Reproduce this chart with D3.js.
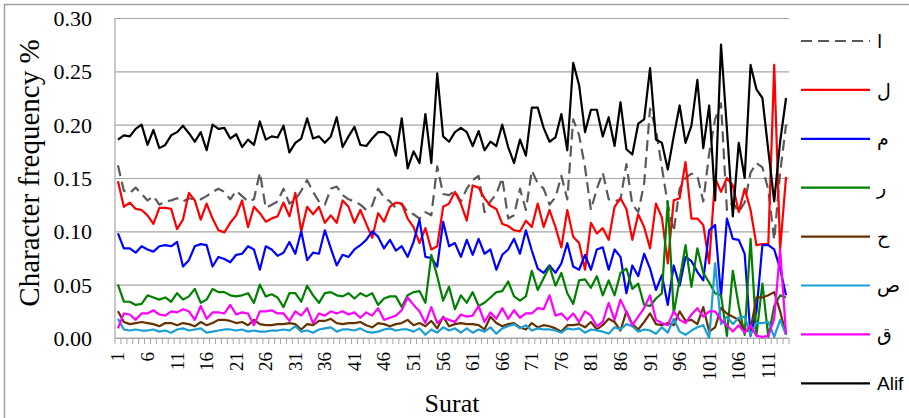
<!DOCTYPE html>
<html lang="en">
<head>
<meta charset="UTF-8" />
<title>Character frequency by Surat</title>
<style>
  html, body {
    margin: 0;
    padding: 0;
    background: #fff;
  }
  svg { display: block; }
  .grid line { stroke: #a6a6a6; stroke-width: 1.2; }
  .grid .domain { display: none; }
  .ytick text, .xtick text { font-family: "Liberation Serif", "Times New Roman", serif; fill: #000; }
  .series { fill: none; stroke-width: 2.2; stroke-linejoin: round; }
  .legend text { font-family: "Liberation Sans", "DejaVu Sans", sans-serif; font-size: 19px; fill: #000; }
  .title { font-family: "Liberation Serif", "Times New Roman", serif; fill: #000; }
</style>
</head>
<body>
<svg id="chart" width="909" height="418"></svg>

<script src="https://d3js.org/d3.v7.min.js"></script>
<script>
// surat numbers 1..114
const surat = d3.range(1, 115);

const yTicks = [0, 0.05, 0.10, 0.15, 0.20, 0.25, 0.30];

// ا (dashed)
const alefLetter = [
  0.162, 0.138, 0.136, 0.141, 0.135, 0.129, 0.133, 0.125, 0.128, 0.129,
  0.131, 0.128, 0.131, 0.130, 0.130, 0.133, 0.137, 0.140, 0.137, 0.130,
  0.138, 0.133, 0.128, 0.130, 0.155, 0.122, 0.125, 0.128, 0.140, 0.126,
  0.130, 0.138, 0.148, 0.137, 0.128, 0.125, 0.140, 0.142, 0.134, 0.130,
  0.128, 0.125, 0.120, 0.124, 0.140, 0.132, 0.128, 0.122, 0.126, 0.118,
  0.116, 0.112, 0.118, 0.115, 0.161, 0.135, 0.134, 0.138, 0.128, 0.140,
  0.148, 0.152, 0.118, 0.128, 0.135, 0.150, 0.112, 0.115, 0.140, 0.120,
  0.157, 0.145, 0.140, 0.125, 0.132, 0.152, 0.130, 0.205, 0.190, 0.160,
  0.120, 0.140, 0.155, 0.130, 0.128, 0.130, 0.163, 0.125, 0.118, 0.145,
  0.215, 0.195, 0.160, 0.125, 0.100, 0.140, 0.150, 0.154, 0.152, 0.128,
  0.173, 0.205, 0.220, 0.120, 0.127, 0.118, 0.127, 0.155, 0.164, 0.160,
  0.139, 0.092, 0.155, 0.200
];

// ل
const lam = [
  0.147, 0.123, 0.127, 0.121, 0.120, 0.115, 0.107, 0.122, 0.122, 0.121,
  0.102, 0.111, 0.136, 0.129, 0.111, 0.126, 0.112, 0.101, 0.099, 0.108,
  0.115, 0.129, 0.104, 0.123, 0.117, 0.109, 0.112, 0.114, 0.127, 0.114,
  0.136, 0.100, 0.123, 0.116, 0.123, 0.108, 0.115, 0.108, 0.129, 0.123,
  0.108, 0.120, 0.107, 0.094, 0.117, 0.109, 0.123, 0.127, 0.126, 0.112,
  0.104, 0.089, 0.103, 0.083, 0.086, 0.123, 0.126, 0.137, 0.126, 0.110,
  0.143, 0.141, 0.131, 0.124, 0.121, 0.107, 0.105, 0.101, 0.100, 0.110,
  0.104, 0.126, 0.104, 0.120, 0.104, 0.085, 0.120, 0.095, 0.089, 0.064,
  0.108, 0.098, 0.103, 0.092, 0.123, 0.131, 0.121, 0.092, 0.116, 0.104,
  0.084, 0.126, 0.113, 0.070, 0.129, 0.131, 0.165, 0.112, 0.112, 0.106,
  0.070, 0.150, 0.137, 0.150, 0.143, 0.118, 0.140, 0.120, 0.087, 0.088,
  0.088, 0.256, 0.083, 0.151
];

// م
const meem = [
  0.098, 0.084, 0.084, 0.080, 0.086, 0.083, 0.081, 0.086, 0.087, 0.086,
  0.090, 0.067, 0.073, 0.086, 0.088, 0.087, 0.067, 0.076, 0.074, 0.071,
  0.078, 0.079, 0.086, 0.083, 0.064, 0.086, 0.083, 0.077, 0.080, 0.090,
  0.079, 0.100, 0.073, 0.080, 0.079, 0.101, 0.084, 0.068, 0.078, 0.076,
  0.083, 0.087, 0.092, 0.100, 0.095, 0.084, 0.092, 0.082, 0.086, 0.076,
  0.090, 0.111, 0.076, 0.075, 0.067, 0.109, 0.086, 0.089, 0.076, 0.092,
  0.078, 0.093, 0.079, 0.083, 0.064, 0.078, 0.083, 0.093, 0.079, 0.101,
  0.082, 0.065, 0.061, 0.068, 0.061, 0.070, 0.089, 0.067, 0.064, 0.078,
  0.064, 0.083, 0.085, 0.064, 0.083, 0.076, 0.042, 0.068, 0.058, 0.079,
  0.065, 0.045, 0.059, 0.031, 0.068, 0.049, 0.076, 0.072, 0.062, 0.054,
  0.101, 0.106, 0.039, 0.112, 0.093, 0.092, 0.079, 0.002, 0.025, 0.087,
  0.087, 0.083, 0.065, 0.040
];

// ر
const ra = [
  0.050, 0.034, 0.034, 0.031, 0.032, 0.040, 0.038, 0.036, 0.038, 0.034,
  0.042, 0.036, 0.039, 0.046, 0.033, 0.036, 0.046, 0.043, 0.043, 0.040,
  0.039, 0.040, 0.042, 0.033, 0.050, 0.039, 0.041, 0.038, 0.029, 0.042,
  0.042, 0.034, 0.049, 0.040, 0.033, 0.042, 0.043, 0.040, 0.039, 0.042,
  0.037, 0.042, 0.039, 0.042, 0.031, 0.037, 0.039, 0.039, 0.029, 0.040,
  0.043, 0.044, 0.033, 0.078, 0.058, 0.035, 0.048, 0.027, 0.040, 0.033,
  0.043, 0.030, 0.033, 0.038, 0.043, 0.044, 0.053, 0.039, 0.035, 0.039,
  0.063, 0.045, 0.056, 0.067, 0.049, 0.061, 0.042, 0.032, 0.054, 0.055,
  0.047, 0.058, 0.040, 0.054, 0.040, 0.061, 0.065, 0.046, 0.051, 0.031,
  0.030, 0.037, 0.042, 0.128, 0.023, 0.055, 0.087, 0.048, 0.084, 0.061,
  0.052, 0.042, 0.040, 0.002, 0.063, 0.030, 0.003, 0.093, 0.003, 0.051,
  0.001, 0.030, 0.040, 0.038
];

// ح
const ha = [
  0.025, 0.015, 0.013, 0.014, 0.015, 0.014, 0.013, 0.011, 0.014, 0.014,
  0.012, 0.014, 0.013, 0.011, 0.015, 0.012, 0.014, 0.017, 0.017, 0.016,
  0.014, 0.015, 0.012, 0.017, 0.013, 0.012, 0.012, 0.013, 0.013, 0.014,
  0.013, 0.008, 0.013, 0.012, 0.016, 0.016, 0.018, 0.014, 0.013, 0.014,
  0.014, 0.015, 0.012, 0.010, 0.014, 0.013, 0.011, 0.013, 0.014, 0.017,
  0.012, 0.014, 0.011, 0.016, 0.009, 0.020, 0.011, 0.013, 0.014, 0.013,
  0.013, 0.012, 0.008, 0.020, 0.014, 0.011, 0.013, 0.014, 0.010, 0.008,
  0.014, 0.010, 0.012, 0.011, 0.009, 0.006, 0.012, 0.012, 0.013, 0.010,
  0.015, 0.008, 0.012, 0.018, 0.015, 0.007, 0.025, 0.013, 0.008, 0.015,
  0.023, 0.013, 0.012, 0.014, 0.012, 0.025, 0.016, 0.017, 0.013, 0.029,
  0.006, 0.010, 0.028, 0.023, 0.020, 0.017, 0.006, 0.008, 0.038, 0.038,
  0.040, 0.043, 0.025, 0.003
];

// ص
const sad = [
  0.018, 0.008, 0.007, 0.008, 0.007, 0.007, 0.008, 0.006, 0.007, 0.005,
  0.008, 0.009, 0.007, 0.008, 0.009, 0.005, 0.006, 0.007, 0.008, 0.008,
  0.007, 0.008, 0.006, 0.007, 0.006, 0.006, 0.007, 0.007, 0.008, 0.007,
  0.011, 0.006, 0.007, 0.005, 0.008, 0.009, 0.010, 0.006, 0.008, 0.008,
  0.007, 0.009, 0.006, 0.005, 0.006, 0.008, 0.009, 0.007, 0.008, 0.008,
  0.006, 0.009, 0.003, 0.008, 0.005, 0.010, 0.007, 0.009, 0.005, 0.009,
  0.005, 0.008, 0.006, 0.010, 0.004, 0.009, 0.011, 0.013, 0.009, 0.012,
  0.007, 0.009, 0.008, 0.008, 0.007, 0.005, 0.009, 0.008, 0.009, 0.005,
  0.008, 0.007, 0.006, 0.004, 0.010, 0.008, 0.013, 0.011, 0.006, 0.008,
  0.007, 0.004, 0.010, 0.005, 0.018, 0.006, 0.003, 0.007, 0.010, 0.012,
  0.000, 0.070, 0.013, 0.020, 0.013, 0.019, 0.020, 0.003, 0.014, 0.014,
  0.015, 0.001, 0.017, 0.003
];

// ق
const qaf = [
  0.009, 0.023, 0.022, 0.017, 0.023, 0.023, 0.026, 0.022, 0.021, 0.025,
  0.024, 0.027, 0.025, 0.017, 0.030, 0.018, 0.024, 0.024, 0.023, 0.031,
  0.022, 0.024, 0.023, 0.012, 0.025, 0.025, 0.026, 0.023, 0.023, 0.016,
  0.025, 0.021, 0.028, 0.014, 0.023, 0.021, 0.025, 0.023, 0.025, 0.022,
  0.024, 0.019, 0.024, 0.021, 0.028, 0.017, 0.019, 0.021, 0.026, 0.038,
  0.031, 0.025, 0.014, 0.029, 0.014, 0.019, 0.017, 0.015, 0.022, 0.020,
  0.021, 0.030, 0.015, 0.024, 0.018, 0.028, 0.018, 0.026, 0.019, 0.023,
  0.023, 0.028, 0.027, 0.040, 0.021, 0.023, 0.017, 0.023, 0.015, 0.025,
  0.021, 0.011, 0.015, 0.033, 0.017, 0.036, 0.024, 0.012, 0.020, 0.028,
  0.040, 0.017, 0.014, 0.012, 0.025, 0.017, 0.014, 0.022, 0.028, 0.020,
  0.025, 0.025, 0.017, 0.012, 0.006, 0.012, 0.005, 0.012, 0.002, 0.001,
  0.002, 0.018, 0.083, 0.004
];

// Alif
const alif = [
  0.186, 0.190, 0.189, 0.196, 0.200, 0.181, 0.195, 0.178, 0.181, 0.190,
  0.193, 0.199, 0.192, 0.184, 0.193, 0.176, 0.200, 0.196, 0.197, 0.187,
  0.191, 0.179, 0.186, 0.181, 0.203, 0.186, 0.189, 0.188, 0.199, 0.174,
  0.183, 0.187, 0.206, 0.187, 0.189, 0.183, 0.189, 0.207, 0.179, 0.189,
  0.198, 0.181, 0.180, 0.187, 0.193, 0.193, 0.189, 0.171, 0.206, 0.159,
  0.175, 0.164, 0.210, 0.164, 0.248, 0.189, 0.184, 0.193, 0.197, 0.193,
  0.180, 0.194, 0.176, 0.184, 0.180, 0.200, 0.179, 0.164, 0.186, 0.171,
  0.216, 0.216, 0.197, 0.184, 0.188, 0.210, 0.176, 0.258, 0.237, 0.193,
  0.214, 0.214, 0.189, 0.207, 0.180, 0.221, 0.177, 0.172, 0.201, 0.205,
  0.253, 0.186, 0.183, 0.158, 0.189, 0.218, 0.183, 0.199, 0.242, 0.178,
  0.218, 0.129, 0.275, 0.196, 0.114, 0.183, 0.150, 0.256, 0.233, 0.225,
  0.176, 0.128, 0.184, 0.225
];

const series = [
  { name: "ا", values: alefLetter, color: "#5a5a5a", dash: "11,6" },
  { name: "ل", values: lam, color: "#ff0000" },
  { name: "م", values: meem, color: "#0000ff" },
  { name: "ر", values: ra, color: "#008000" },
  { name: "ح", values: ha, color: "#663300" },
  { name: "ص", values: sad, color: "#1a9ed4" },
  { name: "ق", values: qaf, color: "#ff00ff" },
  { name: "Alif", values: alif, color: "#000000" }
];

const W = 909, H = 418;
const plot = { left: 115, right: 789, top: 18, bottom: 338 };

const svg = d3.select("#chart");

const x = d3.scaleBand().domain(surat).range([plot.left, plot.right]);
const y = d3.scaleLinear().domain([0, 0.30]).range([plot.bottom, plot.top]);
const cx = d => x(d) + x.bandwidth() / 2;

// chart frame
svg.append("rect")
  .attr("x", 4.5).attr("y", 4.5)
  .attr("width", W).attr("height", H)
  .attr("fill", "none")
  .attr("stroke", "#a0a0a0")
  .attr("stroke-width", 1.5);

// gridlines + y labels
svg.append("g")
  .attr("class", "grid ytick")
  .attr("transform", `translate(${plot.left},0)`)
  .call(d3.axisLeft(y)
    .tickValues(yTicks)
    .tickSize(-(plot.right - plot.left))
    .tickPadding(23)
    .tickFormat(d3.format(".2f")))
  .call(g => g.selectAll("text").attr("font-size", 22).attr("dy", "0.34em"));

// value axis line
svg.append("line")
  .attr("x1", plot.left).attr("x2", plot.left)
  .attr("y1", plot.top).attr("y2", plot.bottom)
  .attr("stroke", "#a6a6a6").attr("stroke-width", 1.2);

// category axis line + tick marks between categories
const xAxis = svg.append("g").attr("class", "xtick");
xAxis.append("line")
  .attr("x1", plot.left).attr("x2", plot.right)
  .attr("y1", plot.bottom).attr("y2", plot.bottom)
  .attr("stroke", "#a6a6a6").attr("stroke-width", 1.2);

xAxis.selectAll("line.tk")
  .data(surat.concat([null]))
  .join("line")
  .attr("class", "tk")
  .attr("x1", d => d === null ? plot.right : x(d))
  .attr("x2", d => d === null ? plot.right : x(d))
  .attr("y1", plot.bottom)
  .attr("y2", plot.bottom + 6)
  .attr("stroke", "#a6a6a6").attr("stroke-width", 1);

xAxis.selectAll("text")
  .data(surat.filter(d => d % 5 === 1))
  .join("text")
  .attr("transform", d => `translate(${cx(d)},${plot.bottom + 14}) rotate(-90)`)
  .attr("text-anchor", "end")
  .attr("dy", "0.34em")
  .attr("font-size", 19)
  .text(d => d);

// series lines
const line = d3.line()
  .x((v, i) => cx(surat[i]))
  .y(v => y(v));

svg.append("g")
  .selectAll("path")
  .data(series)
  .join("path")
  .attr("class", "series")
  .attr("stroke", d => d.color)
  .attr("stroke-dasharray", d => d.dash || null)
  .attr("d", d => line(d.values));

// legend
const legend = svg.append("g").attr("class", "legend");
const item = legend.selectAll("g")
  .data(series)
  .join("g")
  .attr("transform", (d, i) => `translate(801,${41 + i * 48.9})`);

item.append("line")
  .attr("x1", 0).attr("x2", 69)
  .attr("stroke", d => d.color)
  .attr("stroke-width", 2.2)
  .attr("stroke-dasharray", d => d.dash || null);

item.append("text")
  .attr("x", 76)
  .attr("dy", "0.35em")
  .text(d => d.name);

// axis titles
svg.append("text")
  .attr("class", "title")
  .attr("transform", `translate(29,${(plot.top + plot.bottom) / 2 - 5}) rotate(-90)`)
  .attr("text-anchor", "middle")
  .attr("dy", "0.34em")
  .attr("font-size", 29)
  .text("Character frequency %");

svg.append("text")
  .attr("class", "title")
  .attr("x", (plot.left + plot.right) / 2)
  .attr("y", 412)
  .attr("text-anchor", "middle")
  .attr("font-size", 26)
  .text("Surat");
</script>
</body>
</html>
